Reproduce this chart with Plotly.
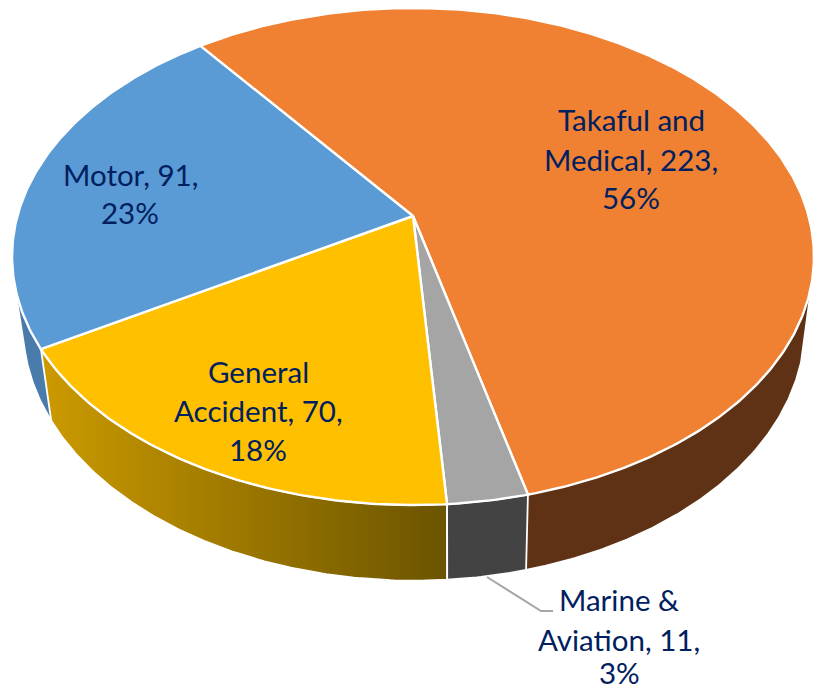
import numpy as np
import plotly.graph_objects as go

# ---- data ----
categories = ["Takaful and Medical", "Marine & Aviation", "General Accident", "Motor"]
values = [223, 11, 70, 91]
top_colors = ["#F08032", "#A5A5A5", "#FFC000", "#5B9BD5"]
side_colors = ["#5F3215", "#434343", None, "#4A7CAB"]
side_gradient = {2: ["#CC9A00", "#6B5400"]}
label_lines = [
    ["Takaful and", "Medical, 223,", "56%"],
    ["Marine &", "Aviation, 11,", "3%"],
    ["General", "Accident, 70,", "18%"],
    ["Motor, 91,", "23%"],
]
label_x = [631, 619, 258, 130]
label_y = [[119, 159, 197], [599, 639, 672], [371, 410, 449], [174, 212]]
TEXT = "#002060"

# ---- view of the disc (perspective projection) ----
FIRST_ANGLE = -37.4
CX, CY = 413.0, 216.0
A, B, K = 395.6, 206.7, 0.163
SX, SY, DX, DY = 0.975, 1.025, 1.0, 63.0
SILHOUETTE_SLICES = {0, 3}  # walls that wrap round the disc's edge


def top(t):
    x, y = np.sin(t), np.cos(t)
    w = 1 + K * y
    return CX + A * x / w, (CY - B * y) / w


def bottom(t):
    X, Y = top(t)
    return CX + SX * (X - CX) + DX, SY * Y + DY


def convex_hull(xs, ys):
    pts = sorted(set(zip(xs.tolist(), ys.tolist())))

    def half(points):
        out = []
        for p in points:
            while len(out) >= 2 and ((out[-1][0] - out[-2][0]) * (p[1] - out[-2][1])
                                     - (out[-1][1] - out[-2][1]) * (p[0] - out[-2][0])) <= 0:
                out.pop()
            out.append(p)
        return out[:-1]

    h = half(pts) + half(pts[::-1])
    h.append(h[0])
    return np.array(h).T


edges = FIRST_ANGLE + 360 * np.concatenate([[0], np.cumsum(values)]) / sum(values)
fig = go.Figure()
arcs = []
for i in range(len(values)):
    n = max(8, int((edges[i + 1] - edges[i]) * 2))
    arcs.append(np.radians(np.linspace(edges[i], edges[i + 1], n)))

# side walls first, back to front
for i in [0, 3, 2, 1]:
    t = arcs[i]
    xt, yt = top(t)
    xb, yb = bottom(t[::-1])
    if i in SILHOUETTE_SLICES:
        xs, ys = convex_hull(np.r_[xt, xb], np.r_[yt, yb])
    else:
        xs, ys = np.r_[xt, xb, xt[0]], np.r_[yt, yb, yt[0]]
    kw = dict(fillcolor=side_colors[i])
    if i in side_gradient:
        c0, c1 = side_gradient[i]
        kw = dict(fillgradient=dict(type="horizontal", colorscale=[[0, c0], [1, c1]]))
    fig.add_trace(go.Scatter(
        x=xs, y=ys, mode="lines", fill="toself",
        line=dict(color="#FFFFFF", width=1.8), hoverinfo="skip", showlegend=False, **kw))

# top faces
for i in range(len(values)):
    xt, yt = top(arcs[i])
    fig.add_trace(go.Scatter(
        x=np.r_[CX, xt, CX], y=np.r_[CY, yt, CY], mode="lines", fill="toself",
        fillcolor=top_colors[i], line=dict(color="#FFFFFF", width=2.4),
        name=categories[i], hoverinfo="name", showlegend=False))

# leader line of the small slice
fig.add_trace(go.Scatter(x=[487, 541, 553], y=[577, 611, 611], mode="lines",
                         line=dict(color="#A6A6A6", width=2), hoverinfo="skip", showlegend=False))

for lines, lx, ly in zip(label_lines, label_x, label_y):
    for s, y in zip(lines, ly):
        fig.add_annotation(x=lx, y=y, text=s, showarrow=False, xanchor="center", yanchor="middle",
                           font=dict(family="Lato, Carlito, sans-serif", size=29.5, color=TEXT))

fig.update_layout(
    width=813, height=690, margin=dict(l=0, r=0, t=0, b=0),
    paper_bgcolor="#FFFFFF", plot_bgcolor="#FFFFFF", showlegend=False,
    xaxis=dict(range=[0, 813], visible=False, fixedrange=True),
    yaxis=dict(range=[690, 0], visible=False, fixedrange=True),
)
fig.write_html("out.html", config=dict(displayModeBar=False),
               post_script="document.body.style.margin='0';document.body.style.overflow='hidden';")
